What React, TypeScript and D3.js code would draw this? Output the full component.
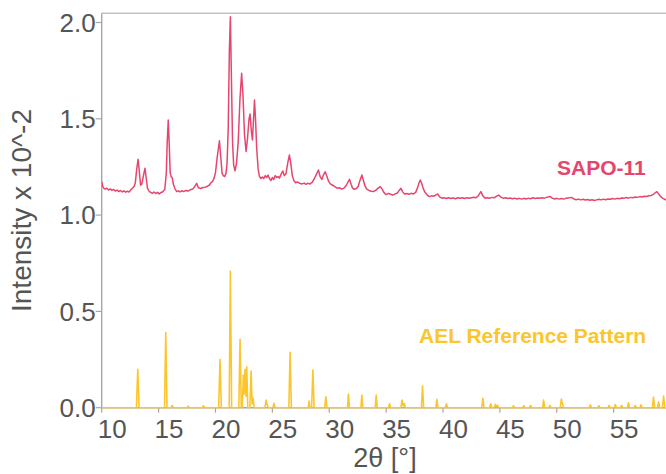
import React from "react";
import * as d3 from "d3";

const xTicks = [10, 15, 20, 25, 30, 35, 40, 45, 50, 55];
const yTicks = [0, 0.5, 1.0, 1.5, 2.0];
const yTickLabels = ["0.0", "0.5", "1.0", "1.5", "2.0"];
const xTitle = "2θ [°]";
const yTitle = "Intensity x 10^-2";
const seriesNames = ["SAPO-11", "AEL Reference Pattern"];

// SAPO-11 measured pattern [2θ, intensity]
const sapo11: [number, number][] = [
  [10.0, 1.175], [10.08, 1.15], [10.18, 1.14], [10.3, 1.135], [10.45, 1.14], [10.6, 1.13], [10.75, 1.136], [10.9, 1.128],
  [11.05, 1.133], [11.2, 1.125], [11.35, 1.13], [11.5, 1.122], [11.65, 1.128], [11.8, 1.12], [11.95, 1.126], [12.1, 1.119],
  [12.25, 1.124], [12.4, 1.12], [12.55, 1.13], [12.7, 1.14], [12.85, 1.15], [12.95, 1.165], [13.08, 1.24], [13.2, 1.29],
  [13.3, 1.23], [13.42, 1.155], [13.52, 1.16], [13.65, 1.2], [13.8, 1.243], [13.92, 1.19], [14.02, 1.14], [14.15, 1.125],
  [14.3, 1.118], [14.45, 1.113], [14.6, 1.12], [14.75, 1.112], [14.9, 1.118], [15.05, 1.11], [15.2, 1.117], [15.35, 1.12],
  [15.55, 1.135], [15.68, 1.22], [15.76, 1.38], [15.85, 1.494], [15.94, 1.36], [16.02, 1.22], [16.1, 1.2], [16.2, 1.195],
  [16.3, 1.16], [16.45, 1.135], [16.6, 1.122], [16.75, 1.126], [16.9, 1.12], [17.05, 1.127], [17.2, 1.122], [17.4, 1.128],
  [17.6, 1.125], [17.8, 1.132], [18.0, 1.135], [18.2, 1.15], [18.35, 1.165], [18.5, 1.142], [18.7, 1.138], [18.9, 1.143],
  [19.1, 1.145], [19.3, 1.15], [19.45, 1.155], [19.6, 1.168], [19.75, 1.175], [19.88, 1.192], [20.0, 1.22], [20.15, 1.3],
  [20.35, 1.386], [20.48, 1.29], [20.58, 1.217], [20.7, 1.205], [20.8, 1.2], [20.92, 1.215], [21.02, 1.27], [21.12, 1.45],
  [21.22, 1.85], [21.31, 2.03], [21.4, 1.72], [21.5, 1.38], [21.6, 1.26], [21.72, 1.23], [21.85, 1.27], [22.0, 1.38],
  [22.15, 1.6], [22.3, 1.736], [22.42, 1.62], [22.55, 1.42], [22.69, 1.33], [22.82, 1.4], [22.95, 1.5], [23.04, 1.525],
  [23.15, 1.44], [23.25, 1.39], [23.35, 1.5], [23.43, 1.598], [23.52, 1.5], [23.62, 1.35], [23.75, 1.24], [23.87, 1.2],
  [24.0, 1.19], [24.12, 1.198], [24.25, 1.19], [24.38, 1.205], [24.5, 1.195], [24.62, 1.208], [24.75, 1.19], [24.88, 1.18],
  [25.0, 1.195], [25.12, 1.185], [25.25, 1.205], [25.38, 1.195], [25.5, 1.2], [25.62, 1.192], [25.75, 1.21], [25.92, 1.229],
  [26.05, 1.205], [26.2, 1.215], [26.35, 1.27], [26.5, 1.312], [26.62, 1.27], [26.75, 1.205], [26.9, 1.178], [27.05, 1.168],
  [27.2, 1.172], [27.4, 1.165], [27.6, 1.162], [27.8, 1.166], [27.95, 1.16], [28.1, 1.165], [28.3, 1.162], [28.5, 1.17],
  [28.7, 1.19], [28.9, 1.215], [29.05, 1.234], [29.2, 1.2], [29.35, 1.185], [29.5, 1.21], [29.64, 1.225], [29.8, 1.2],
  [29.95, 1.175], [30.1, 1.162], [30.3, 1.155], [30.5, 1.148], [30.7, 1.14], [30.9, 1.142], [31.1, 1.135], [31.3, 1.14],
  [31.5, 1.155], [31.65, 1.172], [31.78, 1.186], [31.92, 1.16], [32.05, 1.14], [32.2, 1.134], [32.4, 1.138], [32.55, 1.15],
  [32.7, 1.18], [32.87, 1.208], [33.0, 1.18], [33.15, 1.15], [33.3, 1.135], [33.5, 1.128], [33.7, 1.124], [33.9, 1.122],
  [34.1, 1.13], [34.3, 1.14], [34.48, 1.148], [34.65, 1.135], [34.8, 1.118], [35.0, 1.106], [35.2, 1.113], [35.4, 1.108],
  [35.6, 1.104], [35.8, 1.11], [36.0, 1.115], [36.15, 1.128], [36.3, 1.139], [36.45, 1.122], [36.6, 1.11], [36.8, 1.112],
  [37.0, 1.108], [37.2, 1.113], [37.4, 1.11], [37.6, 1.118], [37.75, 1.14], [37.88, 1.165], [38.0, 1.182], [38.12, 1.165],
  [38.25, 1.14], [38.4, 1.12], [38.6, 1.105], [38.8, 1.096], [39.0, 1.1], [39.2, 1.098], [39.35, 1.104], [39.52, 1.11],
  [39.7, 1.095], [39.9, 1.088], [40.1, 1.09], [40.3, 1.086], [40.5, 1.09], [40.7, 1.086], [40.9, 1.089], [41.1, 1.085],
  [41.3, 1.09], [41.5, 1.087], [41.7, 1.09], [41.9, 1.086], [42.1, 1.09], [42.3, 1.087], [42.5, 1.09], [42.7, 1.093],
  [42.9, 1.09], [43.1, 1.1], [43.33, 1.122], [43.5, 1.1], [43.7, 1.088], [43.9, 1.09], [44.1, 1.087], [44.3, 1.092],
  [44.5, 1.09], [44.7, 1.098], [44.9, 1.104], [45.1, 1.093], [45.3, 1.088], [45.5, 1.09], [45.7, 1.086], [45.9, 1.089],
  [46.1, 1.085], [46.3, 1.088], [46.5, 1.084], [46.7, 1.087], [46.9, 1.083], [47.1, 1.087], [47.3, 1.084], [47.5, 1.088],
  [47.7, 1.085], [47.9, 1.09], [48.1, 1.086], [48.3, 1.089], [48.5, 1.087], [48.7, 1.09], [48.9, 1.088], [49.1, 1.092],
  [49.4, 1.097], [49.6, 1.088], [49.8, 1.084], [50.0, 1.087], [50.2, 1.083], [50.4, 1.086], [50.6, 1.083], [50.8, 1.087],
  [51.0, 1.089], [51.3, 1.092], [51.5, 1.084], [51.7, 1.08], [51.9, 1.083], [52.1, 1.079], [52.3, 1.082], [52.5, 1.078],
  [52.7, 1.081], [52.9, 1.077], [53.1, 1.08], [53.3, 1.076], [53.5, 1.079], [53.7, 1.082], [53.9, 1.079], [54.1, 1.083],
  [54.3, 1.08], [54.5, 1.084], [54.7, 1.082], [54.9, 1.086], [55.1, 1.083], [55.3, 1.087], [55.5, 1.085], [55.7, 1.089],
  [55.9, 1.087], [56.1, 1.091], [56.3, 1.088], [56.5, 1.092], [56.7, 1.09], [56.9, 1.094], [57.1, 1.092], [57.3, 1.096],
  [57.5, 1.094], [57.7, 1.098], [57.9, 1.097], [58.1, 1.1], [58.3, 1.102], [58.5, 1.108], [58.65, 1.116], [58.8, 1.122],
  [58.95, 1.11], [59.1, 1.098], [59.3, 1.088], [59.6, 1.078],
];

// AEL reference (stick) pattern [2θ, intensity]
const aelRef: [number, number][] = [
  [10.0, 0], [13.05, 0], [13.17, 0.2], [13.29, 0], [15.52, 0], [15.63, 0.39], [15.74, 0], [16.1, 0], [16.2, 0.012],
  [16.3, 0], [17.5, 0], [17.6, 0.008], [17.7, 0], [18.85, 0], [18.95, 0.01], [19.05, 0], [20.28, 0], [20.4, 0.25],
  [20.52, 0], [21.2, 0], [21.31, 0.71], [21.42, 0], [22.05, 0], [22.16, 0.355], [22.27, 0], [22.36, 0], [22.45, 0.17],
  [22.52, 0.07], [22.6, 0.2], [22.68, 0.06], [22.75, 0.213], [22.84, 0], [23.02, 0], [23.13, 0.19], [23.22, 0.02],
  [23.3, 0.05], [23.4, 0], [24.35, 0], [24.45, 0.04], [24.55, 0.015], [24.65, 0], [25.05, 0], [25.15, 0.023], [25.25, 0],
  [26.45, 0], [26.56, 0.288], [26.67, 0], [28.15, 0], [28.23, 0.035], [28.3, 0], [28.45, 0], [28.56, 0.196], [28.67, 0],
  [29.6, 0], [29.7, 0.057], [29.8, 0], [31.6, 0], [31.69, 0.071], [31.78, 0], [32.78, 0], [32.87, 0.066], [32.96, 0],
  [34.04, 0], [34.13, 0.066], [34.22, 0], [35.2, 0], [35.3, 0.02], [35.4, 0], [36.3, 0], [36.4, 0.04], [36.5, 0.01],
  [36.6, 0.022], [36.7, 0], [38.1, 0], [38.2, 0.113], [38.3, 0], [39.37, 0], [39.46, 0.044], [39.55, 0], [40.2, 0],
  [40.3, 0.02], [40.4, 0], [43.4, 0], [43.5, 0.049], [43.6, 0], [44.1, 0], [44.2, 0.02], [44.3, 0], [44.5, 0],
  [44.6, 0.018], [44.7, 0.005], [44.8, 0.012], [44.9, 0], [46.1, 0], [46.2, 0.01], [46.3, 0], [47.0, 0], [47.1, 0.01],
  [47.2, 0], [47.6, 0], [47.7, 0.012], [47.8, 0], [48.75, 0], [48.84, 0.04], [48.93, 0], [49.3, 0], [49.4, 0.012],
  [49.5, 0], [50.3, 0], [50.4, 0.045], [50.5, 0.02], [50.6, 0], [52.85, 0], [52.95, 0.015], [53.05, 0], [53.6, 0],
  [53.7, 0.01], [53.8, 0], [54.5, 0], [54.6, 0.012], [54.7, 0], [55.05, 0], [55.15, 0.016], [55.25, 0], [55.6, 0],
  [55.7, 0.012], [55.8, 0], [56.2, 0], [56.3, 0.026], [56.4, 0], [56.8, 0], [56.9, 0.012], [57.0, 0], [57.3, 0],
  [57.4, 0.015], [57.5, 0], [58.4, 0], [58.5, 0.055], [58.6, 0], [58.85, 0], [58.95, 0.03], [59.05, 0], [59.28, 0],
  [59.39, 0.06], [59.5, 0], [59.6, 0],
];

const W = 666;
const H = 474;
const left = 101.7;
const right = 666;
const bottom = 407.7;
const top = 13.3;

const PINK = "#e6456e";
const YELLOW = "#fdc52c";
const TXT = "#555555";
const FONT = "'Liberation Sans', Arial, Helvetica, sans-serif";

export default function App() {
  const x = d3.scaleLinear().domain([10, 59.6]).range([left, right]);
  const y = d3.scaleLinear().domain([0, 2.0]).range([bottom, 22.5]);
  const line = d3
    .line<[number, number]>()
    .x((d) => x(d[0]))
    .y((d) => y(d[1]));

  return (
    <svg
      width={W}
      height={H}
      style={{ position: "absolute", left: 0, top: 0, background: "#fff" }}
      fontFamily={FONT}
    >
      <defs>
        <clipPath id="plotclip">
          <rect x={left} y={top} width={right - left + 2} height={bottom - top + 1} />
        </clipPath>
      </defs>
      {/* frame */}
      <line x1={left} x2={W} y1={top} y2={top} stroke="#c2c2c2" strokeWidth={1.6} />
      <line x1={left} x2={left} y1={top} y2={bottom} stroke="#a6a6a6" strokeWidth={1.4} />
      <line x1={left} x2={W} y1={bottom} y2={bottom} stroke="#a6a6a6" strokeWidth={1.4} />
      {/* y ticks */}
      {yTicks.map((t, i) => (
        <g key={"y" + t}>
          <line x1={left - 6} x2={left} y1={y(t)} y2={y(t)} stroke="#a6a6a6" strokeWidth={1.2} />
          <text
            x={left - 6}
            y={y(t)}
            dy="0.36em"
            textAnchor="end"
            fontSize={26}
            fill={TXT}
          >
            {yTickLabels[i]}
          </text>
        </g>
      ))}
      {/* x ticks */}
      {xTicks.map((t) => (
        <g key={"x" + t}>
          <line x1={x(t)} x2={x(t)} y1={bottom} y2={bottom + 5} stroke="#a6a6a6" strokeWidth={1.2} />
          <text x={x(t) - 4} y={438} textAnchor="start" fontSize={26} fill={TXT}>
            {t}
          </text>
        </g>
      ))}
      {/* titles */}
      <text x={385} y={467} textAnchor="middle" fontSize={27} fill={TXT}>
        {xTitle}
      </text>
      <text
        transform={`translate(31,${210.5}) rotate(-90)`}
        textAnchor="middle"
        fontSize={28}
        fill={TXT}
      >
        {yTitle}
      </text>
      {/* series */}
      <g clipPath="url(#plotclip)">
        <path d={line(aelRef) || ""} fill="none" stroke={YELLOW} strokeWidth={1.6} strokeLinejoin="round" />
        <path d={line(sapo11) || ""} fill="none" stroke={PINK} strokeWidth={1.5} strokeLinejoin="round" />
      </g>
      {/* series labels */}
      <text x={557} y={175} fontSize={21} fontWeight="bold" fill={PINK}>
        {seriesNames[0]}
      </text>
      <text x={419} y={343} fontSize={21} fontWeight="bold" fill={YELLOW}>
        {seriesNames[1]}
      </text>
    </svg>
  );
}
